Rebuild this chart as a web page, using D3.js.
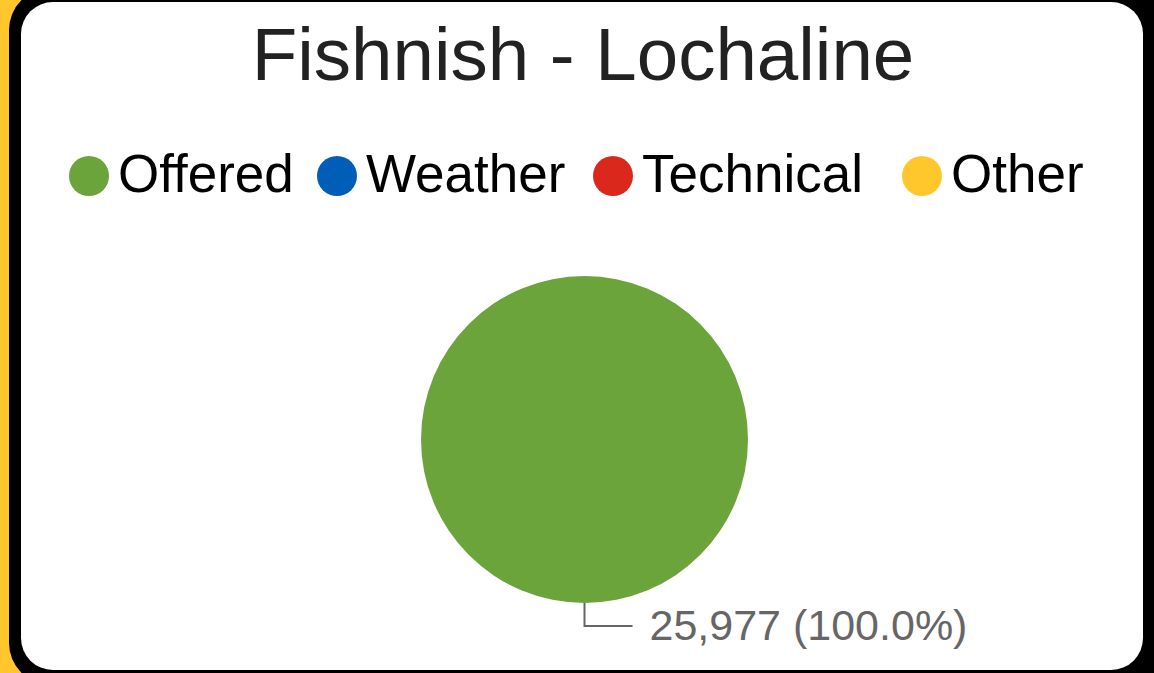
<!DOCTYPE html>
<html>
<head>
<meta charset="utf-8">
<script src="https://cdn.jsdelivr.net/npm/d3@7"></script>
<style>
  html, body { margin: 0; padding: 0; background: #FFC72C; overflow: hidden; }
  svg { display: block; font-family: "Liberation Sans", Arial, sans-serif; }
</style>
</head>
<body>
<div id="chart"></div>
<script>
// chart data
const title = "Fishnish - Lochaline";
const categories = ["Offered", "Weather", "Technical", "Other"];
const values = [25977, 0, 0, 0];
const colors = ["#6BA43A", "#005EB8", "#DA291C", "#FFC72C"];

const W = 1154, H = 673;
const cx = 584.5, cy = 439.5, radius = 163.5;
// legend item positions (circle centres), as laid out in the original
const legendX = [89, 337, 613, 922];

const svg = d3.select("#chart").append("svg")
    .attr("width", W)
    .attr("height", H);

// frame: black rounded border with white card inside
svg.append("rect")
    .attr("x", 9).attr("y", -12)
    .attr("width", 1160).attr("height", 697)
    .attr("rx", 42)
    .attr("fill", "#000");
svg.append("rect")
    .attr("x", 21).attr("y", 2)
    .attr("width", 1122).attr("height", 668)
    .attr("rx", 32)
    .attr("fill", "#fff");

// title
svg.append("text")
    .attr("x", 583).attr("y", 80)
    .attr("text-anchor", "middle")
    .attr("font-size", 74.5)
    .attr("fill", "#222")
    .text(title);

// legend
const legend = svg.append("g").selectAll("g")
    .data(categories)
    .join("g")
    .attr("transform", (d, i) => `translate(${legendX[i]},176)`);
legend.append("circle")
    .attr("r", 20)
    .attr("fill", (d, i) => colors[i]);
legend.append("text")
    .attr("x", 29).attr("y", 16)
    .attr("font-size", 53)
    .attr("fill", "#000")
    .text(d => d);

// pie
const pieData = d3.pie().sort(null)(values);
const arc = d3.arc().innerRadius(0).outerRadius(radius);
const total = d3.sum(values);

const g = svg.append("g").attr("transform", `translate(${cx},${cy})`);
g.selectAll("path")
    .data(pieData)
    .join("path")
    .attr("d", arc)
    .attr("fill", (d, i) => colors[i]);

// leader line + label for the visible slice
const fmt = d3.format(",");
pieData.filter(d => d.value > 0).forEach(d => {
    const pct = (d.value / total * 100).toFixed(1);
    g.append("path")
        .attr("d", `M0,${radius} V${radius + 23} H48`)
        .attr("fill", "none")
        .attr("stroke", "#666")
        .attr("stroke-width", 2);
    g.append("text")
        .attr("x", 65).attr("y", radius + 37)
        .attr("font-size", 43)
        .attr("fill", "#666")
        .text(`${fmt(d.value)} (${pct}%)`);
});
</script>
</body>
</html>
